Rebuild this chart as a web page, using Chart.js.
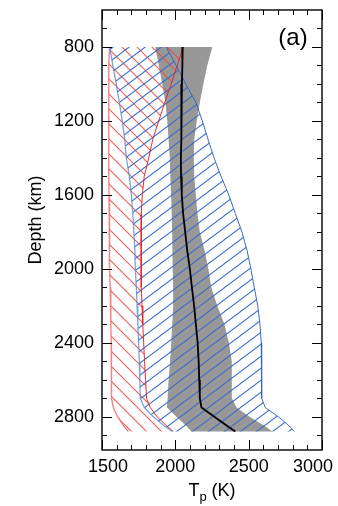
<!DOCTYPE html>
<html>
<head>
<meta charset="utf-8">
<script src="https://cdn.jsdelivr.net/npm/chart.js@4.4.0/dist/chart.umd.min.js"></script>
<style>
  html, body { margin: 0; padding: 0; background: #fff; }
  #wrap { width: 338px; height: 506px; }
</style>
</head>
<body>
<div id="wrap"><canvas id="chart" width="338" height="506"></canvas></div>
<script>
// depth levels (km) shared by every profile
const depthKm = [800, 900, 1000, 1100, 1200, 1300, 1400, 1500, 1600, 1700, 1800, 1900,
                 2000, 2100, 2200, 2300, 2400, 2500, 2600, 2700, 2750, 2800, 2850, 2880];

// potential temperature Tp (K)
const medianT = [2050, 2048, 2045, 2043, 2041, 2039, 2038, 2039, 2044, 2053, 2067, 2081,
                 2099, 2113, 2128, 2140, 2152, 2159, 2163, 2167, 2178, 2266, 2354, 2409];
const grayLo  = [1863, 1887, 1911, 1932, 1945, 1954, 1962, 1966, 1971, 1975, 1978, 1981,
                 1983, 1985, 1985, 1979, 1972, 1964, 1954, 1947, 1943, 2007, 2075, 2109];
const grayHi  = [2252, 2218, 2191, 2167, 2146, 2129, 2126, 2129, 2140, 2150, 2167, 2199,
                 2225, 2245, 2286, 2335, 2365, 2384, 2386, 2386, 2417, 2506, 2610, 2661];
const redLo   = [1552, 1546, 1546, 1546, 1546, 1546, 1546, 1547, 1548, 1549, 1550, 1552,
                 1554, 1556, 1559, 1561, 1563, 1564, 1565, 1565, 1577, 1606, 1650, 1680];
const redHi   = [2054, 2013, 1972, 1928, 1887, 1846, 1819, 1788, 1775, 1768, 1766, 1766,
                 1768, 1770, 1773, 1778, 1784, 1790, 1797, 1804, 1829, 1875, 1942, 1986];
const blueLo  = [1552, 1574, 1597, 1618, 1638, 1655, 1666, 1686, 1700, 1710, 1717, 1724,
                 1727, 1734, 1739, 1744, 1750, 1754, 1758, 1761, 1788, 1850, 1925, 1979];
const blueHi  = [1938, 2006, 2071, 2140, 2184, 2223, 2264, 2312, 2364, 2409, 2454, 2489,
                 2515, 2538, 2562, 2577, 2586, 2588, 2588, 2590, 2613, 2702, 2777, 2811];

// axes
const xMajor = [1500, 2000, 2500, 3000];
const yMajor = [800, 1200, 1600, 2000, 2400, 2800];
const xRange = [1500, 3000];
const yRange = [600, 2980];
const minorStep = 100;

const FONT = '"Liberation Sans", Arial, Helvetica, sans-serif';

function hatch(color, w, h, dir) {
  const c = document.createElement('canvas');
  c.width = w;
  c.height = h;
  const g = c.getContext('2d');
  g.strokeStyle = color;
  g.lineWidth = 1.1;
  for (const s of [-w, 0, w]) {
    g.beginPath();
    if (dir === '/') {
      g.moveTo(s - w, 2 * h);
      g.lineTo(s + 2 * w, -h);
    } else {
      g.moveTo(s - w, -h);
      g.lineTo(s + 2 * w, 2 * h);
    }
    g.stroke();
  }
  return document.createElement('canvas').getContext('2d').createPattern(c, 'repeat');
}

function profile(temps) {
  return temps.map((t, i) => ({ x: t, y: depthKm[i] }));
}

// closed shape: down the cold side, back up the hot side
function band(lo, hi) {
  return profile(lo).concat(profile(hi).reverse());
}

function line(temps, color, width) {
  return {
    data: profile(temps),
    borderColor: color,
    borderWidth: width,
    pointRadius: 0,
    fill: false
  };
}

function area(lo, hi, bg) {
  return {
    data: band(lo, hi),
    borderColor: 'transparent',
    backgroundColor: bg,
    pointRadius: 0,
    fill: 'shape'
  };
}

const framePlugin = {
  id: 'frame',
  afterDraw(chart) {
    const ctx = chart.ctx;
    const a = chart.chartArea;
    const xs = chart.scales.x, ys = chart.scales.y;
    ctx.save();
    ctx.strokeStyle = '#000';

    // inward ticks on all four sides
    ctx.lineWidth = 1;
    ctx.beginPath();
    for (let v = xRange[0]; v <= xRange[1]; v += minorStep) {
      const px = Math.round(xs.getPixelForValue(v)) + 0.5;
      const len = xMajor.includes(v) ? 10 : 5;
      ctx.moveTo(px, a.bottom); ctx.lineTo(px, a.bottom - len);
      ctx.moveTo(px, a.top); ctx.lineTo(px, a.top + len);
    }
    for (let v = 700; v <= yRange[1]; v += minorStep) {
      const py = Math.round(ys.getPixelForValue(v)) + 0.5;
      const len = yMajor.includes(v) ? 10 : 5;
      ctx.moveTo(a.left, py); ctx.lineTo(a.left + len, py);
      ctx.moveTo(a.right, py); ctx.lineTo(a.right - len, py);
    }
    ctx.stroke();

    ctx.lineWidth = 1.4;
    ctx.strokeRect(a.left, a.top, a.right - a.left, a.bottom - a.top);

    // tick labels
    ctx.fillStyle = '#000';
    ctx.font = '18px ' + FONT;
    ctx.textBaseline = 'middle';
    ctx.textAlign = 'right';
    yMajor.forEach(v => ctx.fillText(String(v), a.left - 8, ys.getPixelForValue(v)));
    ctx.textAlign = 'center';
    xMajor.forEach(v => {
      const s = String(v);
      const w = ctx.measureText(s).width;
      let cx = xs.getPixelForValue(v);
      cx = Math.max(cx, a.left - 14 + w / 2);
      cx = Math.min(cx, a.right + 11 - w / 2);
      ctx.fillText(s, cx, 467);
    });

    // y title
    ctx.save();
    ctx.translate(36, 220);
    ctx.rotate(-Math.PI / 2);
    ctx.textAlign = 'center';
    ctx.fillText('Depth (km)', 0, 0);
    ctx.restore();

    // x title: T with subscript p
    ctx.textBaseline = 'alphabetic';
    ctx.textAlign = 'left';
    ctx.font = '18px ' + FONT;
    const wT = ctx.measureText('T').width;
    const wK = ctx.measureText(' (K)').width;
    ctx.font = '13px ' + FONT;
    const wp = ctx.measureText('p').width;
    let x0 = (a.left + a.right) / 2 - (wT + wp + wK) / 2;
    ctx.font = '18px ' + FONT;
    ctx.fillText('T', x0, 496);
    ctx.font = '13px ' + FONT;
    ctx.fillText('p', x0 + wT, 501);
    ctx.font = '18px ' + FONT;
    ctx.fillText(' (K)', x0 + wT + wp, 496);

    // panel label
    ctx.font = '24px ' + FONT;
    ctx.textAlign = 'center';
    ctx.textBaseline = 'middle';
    ctx.fillText('(a)', 293, 38);

    ctx.restore();
  }
};

new Chart(document.getElementById('chart'), {
  type: 'line',
  data: {
    datasets: [
      line(medianT, '#000', 1.8),
      line(blueLo, 'rgba(90, 140, 215, 0.8)', 1.3),
      line(blueHi, 'rgba(45, 100, 190, 0.95)', 1),
      line(redLo, 'rgba(240, 110, 110, 0.85)', 1.4),
      line(redHi, 'rgba(228, 35, 40, 0.95)', 1),
      area(blueLo, blueHi, hatch('rgba(55, 110, 200, 0.95)', 16, 12, '/')),
      area(redLo, redHi, hatch('rgba(234, 75, 75, 0.9)', 15, 15, '\\')),
      area(grayLo, grayHi, 'rgb(152, 152, 152)')
    ]
  },
  options: {
    responsive: false,
    animation: false,
    events: [],
    layout: { padding: { left: 102, right: 16, top: 10, bottom: 56 } },
    elements: { line: { tension: 0 } },
    plugins: { legend: { display: false }, tooltip: { enabled: false } },
    scales: {
      x: { type: 'linear', display: false, min: xRange[0], max: xRange[1] },
      y: { type: 'linear', display: false, min: yRange[0], max: yRange[1], reverse: true }
    }
  },
  plugins: [framePlugin]
});
</script>
</body>
</html>
